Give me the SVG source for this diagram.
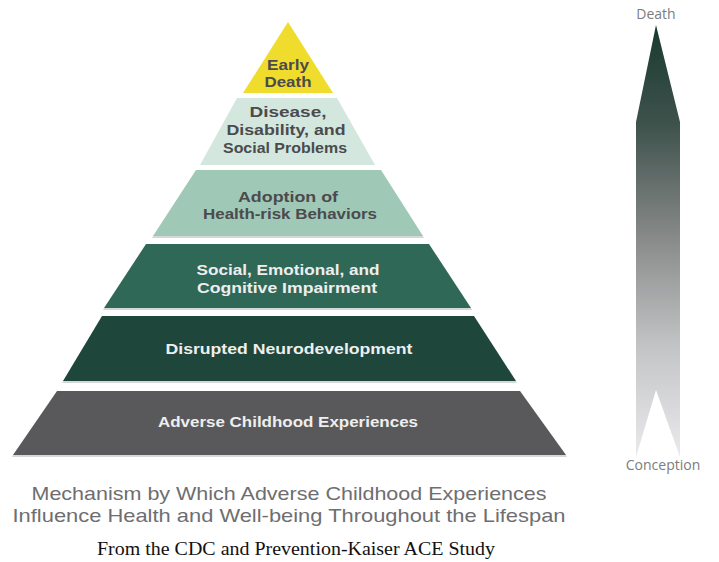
<svg xmlns="http://www.w3.org/2000/svg" width="719" height="562" viewBox="0 0 719 562">
<style>
.tl{font-family:"Liberation Sans",Arial,sans-serif;font-weight:bold;font-size:15px;text-anchor:middle}
.dk{fill:#4b4b4d}
.lt{fill:#eeeeee}
.cap{font-family:"Liberation Sans",Arial,sans-serif;font-size:19px;fill:#6e6e70;text-anchor:middle}
.ax{font-family:"Open Sans","Liberation Sans",sans-serif;font-size:14px;fill:#7c7c7e;text-anchor:middle}
.src{font-family:"Liberation Serif","Times New Roman",serif;font-size:18px;fill:#111;text-anchor:middle}
.sh{fill:#d6d8d7}
</style>
<defs>
<linearGradient id="ag" x1="0" y1="25" x2="0" y2="457" gradientUnits="userSpaceOnUse">
<stop offset="0" stop-color="#193a30"/>
<stop offset="0.23" stop-color="#3e524c"/>
<stop offset="0.5" stop-color="#8a8b8b"/>
<stop offset="0.75" stop-color="#c4c5c6"/>
<stop offset="1" stop-color="#eaeaec"/>
</linearGradient>
</defs>
<rect width="719" height="562" fill="#ffffff"/>

<g id="tier-early-death">
<polygon points="288,22 333,93 243,93" fill="#f0dc2c"/>
<text class="tl dk" x="288" y="70" textLength="42" lengthAdjust="spacingAndGlyphs">Early</text>
<text class="tl dk" x="288" y="87" textLength="47" lengthAdjust="spacingAndGlyphs">Death</text>
</g>

<g id="tier-disease">
<polygon points="237,98 337,98 375,165 200,165" fill="#d3e7de"/>
<text class="tl dk" x="288" y="117" textLength="77" lengthAdjust="spacingAndGlyphs">Disease,</text>
<text class="tl dk" x="286" y="135" textLength="119" lengthAdjust="spacingAndGlyphs">Disability, and</text>
<text class="tl dk" x="285" y="153" textLength="124" lengthAdjust="spacingAndGlyphs">Social Problems</text>
</g>

<g id="tier-adoption">
<polygon class="sh" points="153,236 423,236 424,238 152,238"/>
<polygon points="196,170 381,170 423,236 153,236" fill="#a0c8b7"/>
<text class="tl dk" x="288" y="202" textLength="100" lengthAdjust="spacingAndGlyphs">Adoption of</text>
<text class="tl dk" x="290" y="219" textLength="174" lengthAdjust="spacingAndGlyphs">Health-risk Behaviors</text>
</g>

<g id="tier-social">
<polygon class="sh" points="104,308 471,308 472,310 103,310"/>
<polygon points="146,244 429,244 471,308 104,308" fill="#2f6857"/>
<text class="tl lt" x="288" y="275" textLength="183" lengthAdjust="spacingAndGlyphs">Social, Emotional, and</text>
<text class="tl lt" x="287" y="293" textLength="180" lengthAdjust="spacingAndGlyphs">Cognitive Impairment</text>
</g>

<g id="tier-neuro">
<polygon class="sh" points="63,381 516,381 517,383 62,383"/>
<polygon points="102,316 474,316 516,381 63,381" fill="#1e463b"/>
<text class="tl lt" x="289" y="354" textLength="247" lengthAdjust="spacingAndGlyphs">Disrupted Neurodevelopment</text>
</g>

<g id="tier-ace">
<polygon class="sh" points="13,455 566,455 567,457 12,457"/>
<polygon points="57,391 520,391 566,455 13,455" fill="#59595b"/>
<text class="tl lt" x="288" y="427" textLength="260" lengthAdjust="spacingAndGlyphs">Adverse Childhood Experiences</text>
</g>

<g id="lifespan-arrow">
<polygon points="656,25 680,122 680,457 656,390 636,457 636,122" fill="url(#ag)"/>
<text class="ax" x="656" y="19">Death</text>
<text class="ax" x="663" y="470">Conception</text>
</g>

<g id="caption">
<text class="cap" x="289" y="500" textLength="515" lengthAdjust="spacingAndGlyphs">Mechanism by Which Adverse Childhood Experiences</text>
<text class="cap" x="289" y="522" textLength="553" lengthAdjust="spacingAndGlyphs">Influence Health and Well-being Throughout the Lifespan</text>
<text class="src" x="296" y="555" textLength="398" lengthAdjust="spacingAndGlyphs">From the CDC and Prevention-Kaiser ACE Study</text>
</g>
</svg>
